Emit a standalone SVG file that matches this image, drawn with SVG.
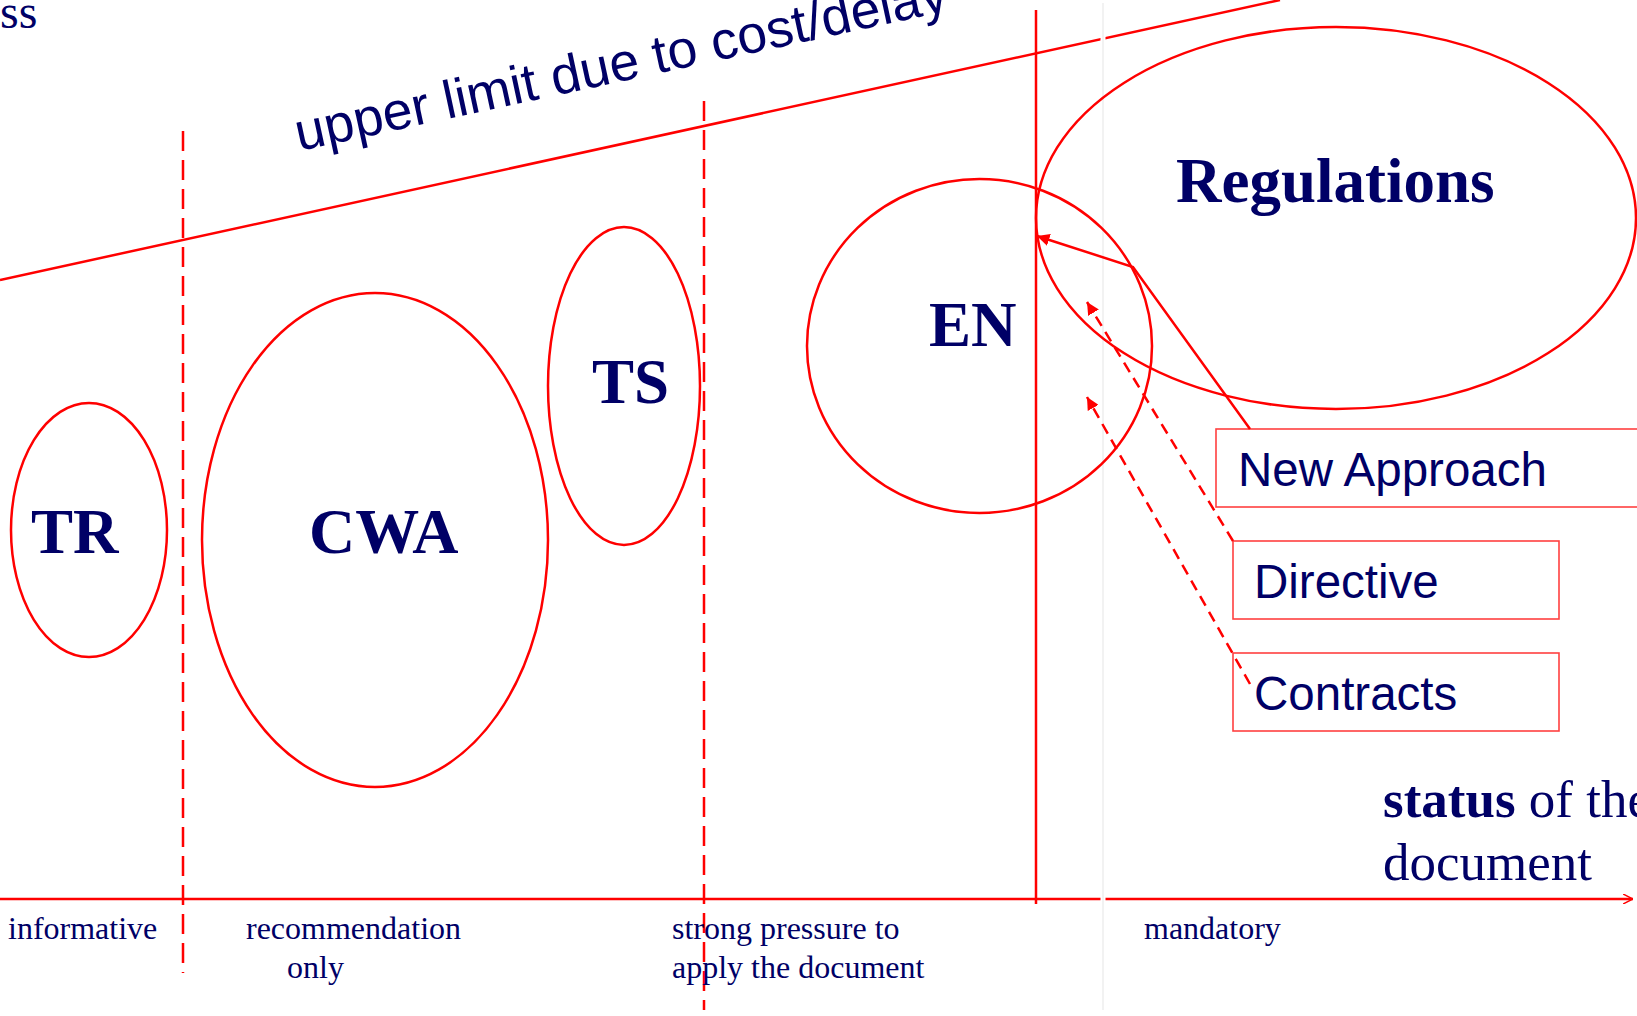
<svg xmlns="http://www.w3.org/2000/svg" width="1637" height="1016" viewBox="0 0 1637 1016">
<style>
.big{font-family:"Liberation Serif","Times New Roman",serif;font-weight:bold;font-size:63px;fill:#000066}
.lab{font-family:"Liberation Serif","Times New Roman",serif;font-size:32px;fill:#000066}
.st{font-family:"Liberation Serif","Times New Roman",serif;font-size:53px;fill:#000066}
.box{fill:none;stroke:#ff4040;stroke-width:1.6}
.boxt{font-family:"Liberation Sans",Arial,sans-serif;font-size:47.5px;fill:#000066}
.ell{fill:none;stroke:#ff0000;stroke-width:2.5}
.ln{fill:none;stroke:#ff0000;stroke-width:2.5}
.dash{fill:none;stroke:#ff0000;stroke-width:2.5;stroke-dasharray:20 9}
.con{fill:none;stroke:#ff0000;stroke-width:2.5}
.cond{fill:none;stroke:#ff0000;stroke-width:2.5;stroke-dasharray:11 7}
</style>
<defs>
<marker id="ah" viewBox="0 0 10 10" refX="10" refY="5" markerWidth="5" markerHeight="5" orient="auto" markerUnits="strokeWidth">
<path d="M0,0 L10,5 L0,10 z" fill="#ff0000"/>
</marker>
<marker id="open" viewBox="0 0 10 10" refX="10" refY="5" markerWidth="4" markerHeight="4" orient="auto" markerUnits="strokeWidth">
<path d="M0,0 L10,5 L0,10" fill="none" stroke="#ff0000" stroke-width="1.5"/>
</marker>
</defs>
<rect width="1637" height="1016" fill="#ffffff"/>
<g id="background">
<line class="ln" x1="0" y1="280" x2="1280" y2="0"/>
<line class="ln" x1="0" y1="899" x2="1633" y2="899" marker-end="url(#open)"/>
<line x1="1103" y1="3" x2="1103" y2="1010" stroke="#ffffff" stroke-width="5"/>
<line x1="1103" y1="3" x2="1103" y2="1010" stroke="#eeeeee" stroke-width="1.5"/>
<line class="dash" x1="183" y1="131" x2="183" y2="973"/>
<line class="dash" x1="704" y1="101" x2="704" y2="1010"/>
<line class="ln" x1="1036" y1="10" x2="1036" y2="904"/>
<text x="0" y="28" class="st" style="font-size:48px">ss</text>
<text x="299" y="151" transform="rotate(-12.2,299,151)" style="font-family:'Liberation Sans',Arial,sans-serif;font-size:53.5px;fill:#000066">upper limit due to cost/delay</text>
<text x="8" y="939" class="lab">informative</text>
<text x="246" y="939" class="lab">recommendation</text>
<text x="287" y="978" class="lab">only</text>
<text x="672" y="939" class="lab">strong pressure to</text>
<text x="672" y="978" class="lab">apply the document</text>
<text x="1144" y="939" class="lab">mandatory</text>
<text x="1383" y="817" class="st"><tspan font-weight="bold">status</tspan> of the</text>
<text x="1383" y="880" class="st">document</text>
</g>
<g id="node-TR">
<ellipse class="ell" cx="89" cy="530" rx="78" ry="127"/>
<text x="31" y="553" class="big">TR</text>
</g>
<g id="node-CWA">
<ellipse class="ell" cx="375" cy="540" rx="173" ry="247"/>
<text x="309" y="553" class="big" style="font-size:64px">CWA</text>
</g>
<g id="node-TS">
<ellipse class="ell" cx="624" cy="386" rx="76" ry="159"/>
<text x="592" y="403" class="big">TS</text>
</g>
<g id="node-EN">
<ellipse class="ell" cx="979.5" cy="346" rx="172.5" ry="167"/>
<text x="929" y="346" class="big">EN</text>
</g>
<g id="node-Regulations">
<ellipse class="ell" cx="1336" cy="218" rx="300" ry="191"/>
<text x="1176" y="202" class="big">Regulations</text>
</g>
<g id="node-NewApproach">
<rect class="box" x="1216" y="429" width="440" height="78"/>
<text x="1238" y="486" class="boxt">New Approach</text>
</g>
<g id="node-Directive">
<rect class="box" x="1233" y="541" width="326" height="78"/>
<text x="1254" y="598" class="boxt">Directive</text>
</g>
<g id="node-Contracts">
<rect class="box" x="1233" y="653" width="326" height="78"/>
<text x="1254" y="710" class="boxt">Contracts</text>
</g>
<g id="connectors">
<polyline class="con" points="1250,429 1133,267 1037,236" marker-end="url(#ah)"/>
<line class="cond" x1="1233" y1="541" x2="1087" y2="302" marker-end="url(#ah)"/>
<line class="cond" x1="1250" y1="684" x2="1087" y2="397" marker-end="url(#ah)"/>
</g>
</svg>
